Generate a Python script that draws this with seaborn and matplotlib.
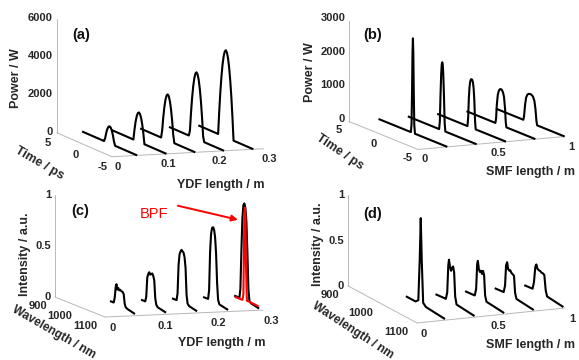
import numpy as np
import pandas as pd
import matplotlib
matplotlib.use("Agg")
import matplotlib.pyplot as plt
import seaborn as sns

sns.set_theme(style="white")
plt.rcParams["font.family"] = ["Liberation Sans", "DejaVu Sans"]

# ---------------- data ----------------
# (a) pulse evolution along YDF
ydf_pos_a = [0.05, 0.108, 0.165, 0.222, 0.28]
time_a = [-5, -1.4, -1.2, -1.0, -0.8, -0.6, -0.4, -0.2, 0, 0.2, 0.4, 0.6, 0.8, 1.0, 1.2, 1.4, 5]
power_a1 = [0, 0, 0, 0, 189, 500, 722, 856, 900, 856, 722, 500, 189, 0, 0, 0, 0]
power_a2 = [0, 0, 0, 0, 558, 992, 1302, 1488, 1550, 1488, 1302, 992, 558, 0, 0, 0, 0]
power_a3 = [0, 0, 0, 421, 1140, 1699, 2100, 2340, 2420, 2340, 2100, 1699, 1140, 421, 0, 0, 0]
power_a4 = [0, 0, 280, 1260, 2066, 2694, 3142, 3410, 3500, 3410, 3142, 2694, 2066, 1260, 280, 0, 0]
power_a5 = [0, 0, 1215, 2243, 3084, 3739, 4206, 4487, 4580, 4487, 4206, 3739, 3084, 2243, 1215, 0, 0]

# (b) pulse evolution along SMF
smf_pos = [0.2, 0.4, 0.6, 0.8, 1.0]
time_b1 = [-5, -0.3, -0.2, -0.12, -0.06, 0, 0.06, 0.12, 0.2, 0.3, 5]
power_b1 = [0, 0, 250, 1300, 2400, 2835, 2400, 1300, 250, 0, 0]
time_b2 = [-5, -0.45, -0.35, -0.25, -0.15, -0.07, 0, 0.07, 0.15, 0.25, 0.35, 0.45, 5]
power_b2 = [0, 0, 250, 1050, 1700, 1980, 2040, 1980, 1700, 1050, 250, 0, 0]
time_b3 = [-5, -0.6, -0.5, -0.4, -0.3, -0.2, -0.1, 0, 0.1, 0.2, 0.3, 0.4, 0.5, 0.6, 5]
power_b3 = [0, 0, 250, 850, 1200, 1370, 1440, 1455, 1440, 1370, 1200, 850, 250, 0, 0]
time_b4 = [-5, -0.8, -0.7, -0.6, -0.45, -0.3, -0.15, 0, 0.15, 0.3, 0.45, 0.6, 0.7, 0.8, 5]
power_b4 = [0, 0, 150, 550, 880, 1010, 1065, 1080, 1065, 1010, 880, 550, 150, 0, 0]
time_b5 = [-5, -1.0, -0.9, -0.75, -0.6, -0.4, -0.2, 0, 0.2, 0.4, 0.6, 0.75, 0.9, 1.0, 5]
power_b5 = [0, 0, 120, 480, 700, 810, 845, 855, 845, 810, 700, 480, 120, 0, 0]

# (c) spectra along YDF
ydf_pos_c = [0.064, 0.123, 0.182, 0.241, 0.30]
wl_c1 = [985, 1000, 1004, 1008, 1011, 1014, 1018, 1022, 1026, 1030, 1035, 1040, 1044, 1048, 1055, 1085]
int_c1 = [0.03, 0.03, 0.08, 0.19, 0.22, 0.17, 0.19, 0.17, 0.18, 0.17, 0.17, 0.15, 0.06, 0.03, 0.02, 0.0]
wl_c2 = [985, 1002, 1006, 1010, 1014, 1018, 1022, 1026, 1030, 1034, 1038, 1042, 1046, 1052, 1085]
int_c2 = [0.03, 0.03, 0.08, 0.27, 0.31, 0.33, 0.31, 0.32, 0.33, 0.31, 0.27, 0.10, 0.04, 0.02, 0.0]
wl_c3 = [985, 1003, 1007, 1011, 1015, 1019, 1023, 1027, 1031, 1035, 1039, 1043, 1047, 1053, 1085]
int_c3 = [0.03, 0.03, 0.10, 0.38, 0.49, 0.52, 0.54, 0.53, 0.52, 0.48, 0.38, 0.12, 0.04, 0.02, 0.0]
wl_c4 = [985, 1005, 1009, 1013, 1017, 1021, 1025, 1029, 1033, 1037, 1041, 1045, 1050, 1085]
int_c4 = [0.03, 0.03, 0.12, 0.50, 0.68, 0.74, 0.75, 0.73, 0.66, 0.50, 0.22, 0.06, 0.02, 0.0]
wl_c5 = [985, 1006, 1010, 1014, 1018, 1022, 1026, 1030, 1034, 1038, 1042, 1046, 1052, 1085]
int_c5 = [0.03, 0.03, 0.12, 0.50, 0.82, 0.95, 0.97, 0.93, 0.80, 0.50, 0.15, 0.04, 0.02, 0.0]
wl_bpf = [990, 1018, 1022, 1024, 1026, 1028, 1030, 1032, 1036, 1080]
int_bpf = [0.02, 0.02, 0.08, 0.50, 0.88, 0.93, 0.85, 0.40, 0.03, 0.02]

# (d) spectra along SMF
wl_d1 = [982, 1010, 1018, 1022, 1025, 1028, 1032, 1040, 1095]
int_d1 = [0.02, 0.02, 0.05, 0.50, 0.97, 0.50, 0.05, 0.02, 0.0]
wl_d2 = [982, 1012, 1016, 1019, 1021, 1024, 1027, 1030, 1033, 1036, 1039, 1043, 1095]
int_d2 = [0.01, 0.02, 0.10, 0.40, 0.47, 0.40, 0.36, 0.40, 0.42, 0.36, 0.10, 0.02, 0.0]
wl_d3 = [982, 1010, 1014, 1017, 1019, 1022, 1025, 1028, 1031, 1034, 1037, 1040, 1044, 1095]
int_d3 = [0.01, 0.02, 0.10, 0.38, 0.42, 0.33, 0.31, 0.33, 0.30, 0.34, 0.30, 0.08, 0.02, 0.0]
wl_d4 = [982, 1008, 1012, 1015, 1018, 1021, 1024, 1027, 1030, 1034, 1038, 1041, 1045, 1095]
int_d4 = [0.01, 0.02, 0.10, 0.33, 0.37, 0.30, 0.29, 0.30, 0.28, 0.27, 0.26, 0.08, 0.02, 0.0]
wl_d5 = [982, 1006, 1010, 1014, 1017, 1020, 1024, 1028, 1032, 1036, 1040, 1044, 1048, 1095]
int_d5 = [0.01, 0.02, 0.10, 0.28, 0.31, 0.27, 0.26, 0.26, 0.25, 0.25, 0.24, 0.08, 0.02, 0.0]

# axis ticks / labels
zticks_a = [0, 2000, 4000, 6000]
zticks_b = [0, 1000, 2000, 3000]
zticks_cd = [0, 0.5, 1]
zticklabels_cd = ["0", "0.5", "1"]
time_ticks = [-5, 0, 5]
wl_ticks = [900, 1000, 1100]
ydf_ticks = [0, 0.1, 0.2, 0.3]
ydf_ticklabels = ["0", "0.1", "0.2", "0.3"]
smf_ticks = [0, 0.5, 1]
smf_ticklabels = ["0", "0.5", "1"]


def long_df(positions, xs_list, ys_list):
    rows = []
    for k, (p, xs, ys) in enumerate(zip(positions, xs_list, ys_list)):
        rows.append(pd.DataFrame({"curve": k, "pos": p, "u": xs, "v": ys}))
    return pd.concat(rows, ignore_index=True)


df_a = long_df(ydf_pos_a, [time_a] * 5, [power_a1, power_a2, power_a3, power_a4, power_a5])
df_b = long_df(smf_pos, [time_b1, time_b2, time_b3, time_b4, time_b5],
               [power_b1, power_b2, power_b3, power_b4, power_b5])
df_c = long_df(ydf_pos_c, [wl_c1, wl_c2, wl_c3, wl_c4, wl_c5],
               [int_c1, int_c2, int_c3, int_c4, int_c5])
df_d = long_df(smf_pos, [wl_d1, wl_d2, wl_d3, wl_d4, wl_d5],
               [int_d1, int_d2, int_d3, int_d4, int_d5])

line_col, bpf_col = sns.color_palette(["#000000", "#ff0000"])
axis_col = "#b8b8b8"
tick_col = "#262626"

W, H = 579, 360
fig = plt.figure(figsize=(W / 100, H / 100), dpi=100)


def project(ax, pts):
    M = ax.get_proj()
    pts = np.asarray(pts, float)
    vec = np.vstack([pts.T, np.ones(len(pts))])
    out = M @ vec
    X, Y = out[0] / out[3], out[1] / out[3]
    return ax.transData.transform(np.column_stack([X, Y]))


panels = {
    "a": dict(xlim=(0, 0.3), ylim=(-5, 5), zlim=(0, 6000), elev=8.7, azim=-109.2,
              aspect=(160, 167, 115),
              targets=[((0, 5, 0), (57, 133)), ((0, -5, 0), (112, 157)),
                       ((0.3, -5, 0), (263, 149)), ((0, 5, 6000), (57, 18))]),
    "b": dict(xlim=(0, 1), ylim=(-5, 5), zlim=(0, 3000), elev=10.9, azim=-115,
              aspect=(162, 163, 102),
              targets=[((0, 5, 0), (349, 122)), ((0, -5, 0), (418, 149)),
                       ((1, -5, 0), (565, 136)), ((0, 5, 3000), (349, 22))]),
    "c": dict(xlim=(0, 0.3), ylim=(1100, 900), zlim=(0, 1), elev=7.6, azim=-108.4,
              aspect=(166, 158, 103),
              targets=[((0, 900, 0), (55, 297)), ((0, 1100, 0), (105, 317)),
                       ((0.3, 1100, 0), (263, 310)), ((0, 900, 1), (55, 195))]),
    "d": dict(xlim=(0, 1), ylim=(1100, 900), zlim=(0, 1), elev=13.5, azim=-113.5,
              aspect=(161, 173, 93),
              targets=[((0, 900, 0), (348, 286)), ((0, 1100, 0), (417, 323)),
                       ((1, 1100, 0), (565, 308)), ((0, 900, 1), (348, 195))]),
}

axes = {}
for key, cfg in panels.items():
    S = 200.0
    ax = fig.add_axes([0.2, 0.2, S / W, S / H], projection="3d", proj_type="ortho")
    ax.set_xlim(*cfg["xlim"])
    ax.set_ylim(*cfg["ylim"])
    ax.set_zlim(*cfg["zlim"])
    ax.set_box_aspect(cfg["aspect"])
    ax.view_init(elev=cfg["elev"], azim=cfg["azim"])
    ax.set_axis_off()
    ax.patch.set_facecolor("none")
    ax.computed_zorder = False
    axes[key] = ax

# fit each 3D box onto the reference pixel positions
fig.canvas.draw()
for key, cfg in panels.items():
    ax = axes[key]
    P = project(ax, [t[0] for t in cfg["targets"]])
    T = np.array([[tx, H - ty] for _, (tx, ty) in cfg["targets"]], float)
    Pm, Tm = P.mean(0), T.mean(0)
    k = ((P - Pm) * (T - Tm)).sum() / ((P - Pm) ** 2).sum()
    d = Tm - k * Pm
    bb = ax.get_position(original=True)
    l, b, w, h = bb.x0 * W, bb.y0 * H, bb.width * W, bb.height * H
    cx, cy = l + w / 2, b + h / 2
    ncx, ncy = k * cx + d[0], k * cy + d[1]
    nw, nh = k * w, k * h
    ax.set_position([(ncx - nw / 2) / W, (ncy - nh / 2) / H, nw / W, nh / H])
fig.canvas.draw()


def draw_curves(ax, df, color=line_col, lw=1.5, z=3):
    for _, g in df.groupby("curve"):
        ax.plot(g["pos"].to_numpy(), g["u"].to_numpy(), g["v"].to_numpy(),
                color=color, lw=lw, zorder=z, solid_capstyle="butt")


def draw_axes(ax, cfg):
    x0, x1 = cfg["xlim"]
    yb, yf = (cfg["ylim"][1], cfg["ylim"][0])  # back, front
    z0, z1 = cfg["zlim"]
    kw = dict(color=axis_col, lw=0.7, zorder=1)
    ax.plot([x0, x0], [yb, yb], [z0, z1], **kw)
    ax.plot([x0, x0], [yb, yf], [z0, z0], **kw)
    ax.plot([x0, x1], [yf, yf], [z0, z0], **kw)


def ticklabels(ax, pts, labels, dx, dy, ha="center"):
    P = project(ax, pts)
    for (xd, yd), s in zip(P, labels):
        fig.text((xd + dx) / W, (yd - dy) / H, s, ha=ha, va="center",
                 fontsize=8, fontweight="bold", color=tick_col)


def axlabel(ax, pts, s, dx, dy, rot, size=9):
    P = project(ax, pts).mean(0)
    fig.text((P[0] + dx) / W, (P[1] - dy) / H, s, ha="center", va="center",
             rotation=rot, rotation_mode="anchor", fontsize=size, fontweight="bold",
             color=tick_col)


# ---- panel a ----
ax = axes["a"]
draw_axes(ax, panels["a"])
draw_curves(ax, df_a)
ticklabels(ax, [(0, 5, v) for v in zticks_a], [str(v) for v in zticks_a], -4, -1, ha="right")
ticklabels(ax, [(0, v, 0) for v in time_ticks], [str(v) for v in time_ticks], -9, 10)
ticklabels(ax, [(v, -5, 0) for v in ydf_ticks], ydf_ticklabels, 6, 10)
axlabel(ax, [(0, 5, 0), (0, 5, 6000)], "Power / W", -41, 2.5, 90)
axlabel(ax, [(0, 5, 0), (0, -5, 0)], "Time / ps", -44.5, 18.5, -30)
axlabel(ax, [(0, -5, 0), (0.3, -5, 0)], "YDF length / m", 33.5, 32, 0)

# ---- panel b ----
ax = axes["b"]
draw_axes(ax, panels["b"])
draw_curves(ax, df_b)
ticklabels(ax, [(0, 5, v) for v in zticks_b], [str(v) for v in zticks_b], -4, -3, ha="right")
ticklabels(ax, [(0, v, 0) for v in time_ticks], [str(v) for v in time_ticks], -10, 8.5)
ticklabels(ax, [(v, -5, 0) for v in smf_ticks], smf_ticklabels, 7, 10)
axlabel(ax, [(0, 5, 0), (0, 5, 3000)], "Power / W", -39, 1, 90)
axlabel(ax, [(0, 5, 0), (0, -5, 0)], "Time / ps", -43.5, 16.5, -34)
axlabel(ax, [(0, -5, 0), (1, -5, 0)], "SMF length / m", 39, 29, 0)

# ---- panel c ----
ax = axes["c"]
draw_axes(ax, panels["c"])
draw_curves(ax, df_c)
ax.plot([ydf_pos_c[4]] * len(wl_bpf), wl_bpf, int_bpf, color=bpf_col, lw=1.5, zorder=5)
ticklabels(ax, [(0, 900, v) for v in zticks_cd], zticklabels_cd, -4, 0, ha="right")
ticklabels(ax, [(0, v, 0) for v in wl_ticks], [str(v) for v in wl_ticks], -8, 9, ha="right")
ticklabels(ax, [(v, 1100, 0) for v in ydf_ticks], ydf_ticklabels, 8, 11)
axlabel(ax, [(0, 900, 0), (0, 900, 1)], "Intensity / a.u.", -30, 8, 90)
axlabel(ax, [(0, 900, 0), (0, 1100, 0)], "Wavelength / nm", -26, 25, -30, size=8.6)
axlabel(ax, [(0, 1100, 0), (0.3, 1100, 0)], "YDF length / m", 38, 29.5, 0)

# ---- panel d ----
ax = axes["d"]
draw_axes(ax, panels["d"])
draw_curves(ax, df_d)
ticklabels(ax, [(0, 900, v) for v in zticks_cd], zticklabels_cd, -4, 0, ha="right")
ticklabels(ax, [(0, v, 0) for v in wl_ticks], [str(v) for v in wl_ticks], -9, 9, ha="right")
ticklabels(ax, [(v, 1100, 0) for v in smf_ticks], smf_ticklabels, 7, 11)
axlabel(ax, [(0, 900, 0), (0, 900, 1)], "Intensity / a.u.", -30, 4, 90)
axlabel(ax, [(0, 900, 0), (0, 1100, 0)], "Wavelength / nm", -30, 26, -33, size=8.6)
axlabel(ax, [(0, 1100, 0), (1, 1100, 0)], "SMF length / m", 39, 30, 0)

# panel letters
for s, (px, py) in zip(["(a)", "(b)", "(c)", "(d)"], [(81, 35), (373, 35), (80, 211), (373, 214)]):
    fig.text(px / W, 1 - py / H, s, ha="center", va="center", fontsize=10.5,
             fontweight="bold", color="#111111")

# BPF annotation (pixel overlay)
ov = fig.add_axes([0, 0, 1, 1])
ov.set_xlim(0, W)
ov.set_ylim(0, H)
ov.axis("off")
ov.patch.set_alpha(0)
pk = project(axes["c"], [(ydf_pos_c[4], wl_bpf[int(np.argmax(int_bpf))], max(int_bpf))])[0]
tip = (pk[0] - 7, pk[1] - 12)
tail = (pk[0] - 67, pk[1] + 2)
ov.annotate("", xy=tip, xytext=tail,
            arrowprops=dict(arrowstyle="-|>", color=bpf_col, lw=1.4, mutation_scale=9,
                            shrinkA=0, shrinkB=0))
ov.text(pk[0] - 91, pk[1] - 6, "BPF", color=bpf_col, fontsize=10.5, ha="center", va="center")

fig.savefig("out.png", dpi=100)
